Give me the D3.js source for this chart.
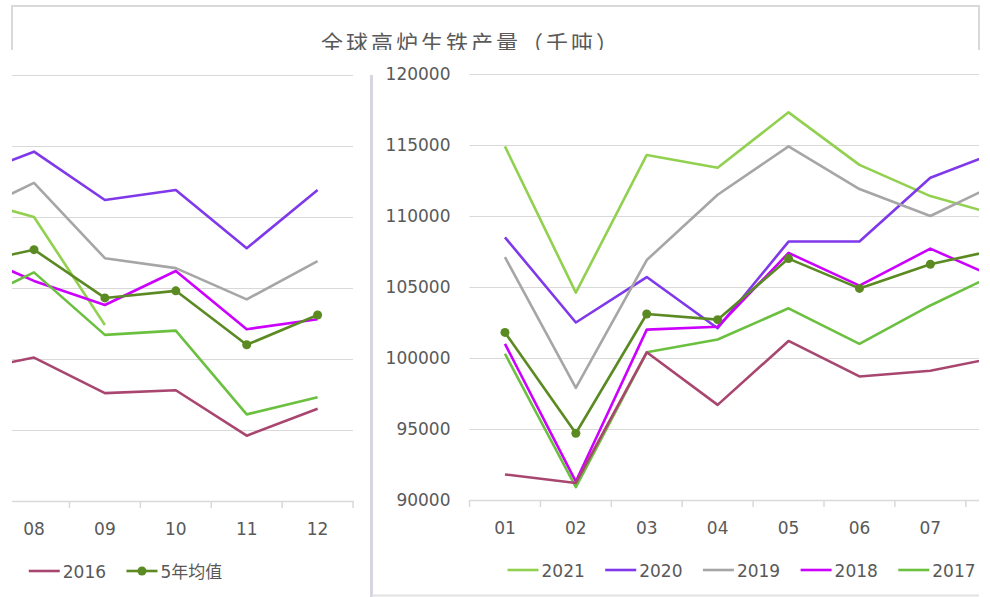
<!DOCTYPE html>
<html>
<head>
<meta charset="utf-8">
<script src="https://cdn.jsdelivr.net/npm/d3@7"></script>
<style>
  body { margin: 0; background: #fff; }
  svg text { font-family: "DejaVu Sans", "Noto Sans CJK SC", sans-serif; fill: #595959; }
</style>
</head>
<body>
<svg id="chart" width="990" height="597"></svg>
<script>
// data
const months = ["01","02","03","04","05","06","07","08","09","10","11","12"];
const yTicks = [90000, 95000, 100000, 105000, 110000, 115000, 120000];
const s2021 = [114900, 104600, 114300, 113400, 117300, 113600, 111400, 110000, 102400, null, null, null];
const s2020 = [108500, 102500, 105700, 102100, 108200, 108200, 112700, 114600, 111200, 111900, 107800, 111900];
const s2019 = [107100, 97900, 106900, 111500, 114900, 111900, 110000, 112400, 107100, 106400, 104200, 106900];
const s2018 = [101000, 91300, 102000, 102200, 107400, 105100, 107700, 105500, 103800, 106200, 102100, 102800];
const s2017 = [100300, 90900, 100400, 101300, 103500, 101000, 103700, 106100, 101700, 102000, 96100, 97300];
const s2016 = [91800, 91200, 100400, 96700, 101200, 98700, 99100, 100100, 97600, 97800, 94600, 96500];
const avg5 = [101800, 94700, 103100, 102700, 107000, 104900, 106600, 107700, 104300, 104800, 101000, 103100];

const series = [
  {name: "2021", values: s2021, color: "#92D050"},
  {name: "2020", values: s2020, color: "#7F38EA"},
  {name: "2019", values: s2019, color: "#A6A6A6"},
  {name: "2018", values: s2018, color: "#CC00FF"},
  {name: "2017", values: s2017, color: "#6CC040"},
  {name: "2016", values: s2016, color: "#A9466F"},
  {name: "5年均值", values: avg5, color: "#5B8A23", marker: true}
];

const svg = d3.select("#chart");
const defs = svg.append("defs");

// title box (cut off at the bottom)
defs.append("clipPath").attr("id", "clipTitle")
  .append("rect").attr("x", 0).attr("y", 0).attr("width", 990).attr("height", 50);
const tg = svg.append("g").attr("clip-path", "url(#clipTitle)");
tg.append("rect").attr("x", 12).attr("y", 6).attr("width", 967).attr("height", 80)
  .attr("fill", "none").attr("stroke", "#d9d9d9").attr("stroke-width", 2);
tg.append("text").attr("x", 471).attr("y", 51).attr("text-anchor", "middle")
  .style("font-family", "'Noto Sans CJK SC', sans-serif")
  .style("font-size", "22px").style("letter-spacing", "3px")
  .text("全球高炉生铁产量（千吨）");

// scales for the full chart
const x = d3.scaleBand().domain(months).range([469.5, 469.5 + 12 * 70.9]);
const y = d3.scaleLinear().domain([90000, 120000]).range([500, 74]);
const plotRight = x.range()[1];
const mid = m => x(m) + x.bandwidth() / 2;

// draws the whole chart; only texts inside [xmin, xmax] are written
function drawChart(g, xmin, xmax, withYLabels) {
  // grid
  g.append("g").selectAll("line").data(yTicks.filter(d => d > 90000)).join("line")
    .attr("x1", x.range()[0]).attr("x2", plotRight)
    .attr("y1", d => Math.round(y(d)) + 0.5).attr("y2", d => Math.round(y(d)) + 0.5)
    .attr("stroke", "#d9d9d9").attr("stroke-width", 1.2);

  // y axis labels
  if (withYLabels) {
    const ya = g.append("g").attr("transform", "translate(" + (x.range()[0] - 19) + ",0)")
      .call(d3.axisLeft(y).tickValues(yTicks).tickSize(0).tickPadding(0).tickFormat(d3.format("d")));
    ya.select(".domain").remove();
    ya.selectAll("text").style("font-size", "17px").attr("dy", "0.35em");
  }

  // x axis
  const shown = months.filter(m => mid(m) - 12 > xmin && mid(m) + 12 < xmax);
  const xa = g.append("g").attr("transform", "translate(0,500)")
    .call(d3.axisBottom(x).tickValues(shown).tickSize(0).tickPadding(22));
  xa.select(".domain").attr("stroke", "#d9d9d9").attr("stroke-width", 1.5);
  xa.selectAll("text").style("font-size", "17px");
  g.append("g").selectAll("line").data(d3.range(13)).join("line")
    .attr("x1", i => x.range()[0] + i * x.step()).attr("x2", i => x.range()[0] + i * x.step())
    .attr("y1", 500).attr("y2", 507).attr("stroke", "#d9d9d9").attr("stroke-width", 1.5);

  // lines
  const line = d3.line()
    .defined(d => d != null)
    .x((d, i) => mid(months[i]))
    .y(d => y(d));
  series.forEach(s => {
    g.append("path").datum(s.values)
      .attr("d", line).attr("fill", "none")
      .attr("stroke", s.color).attr("stroke-width", 2.6)
      .attr("stroke-linejoin", "round");
    if (s.marker) {
      g.append("g").selectAll("circle").data(s.values).join("circle")
        .attr("cx", (d, i) => mid(months[i]))
        .attr("cy", d => y(d)).attr("r", 4.5).attr("fill", s.color);
    }
  });

  // legend (single row)
  const legX = i => 507.5 + i * 97.7;
  const items = series.map((s, i) => ({s: s, x: legX(i)}))
    .filter(d => d.x + 30 > xmin && d.x < xmax);
  const lg = g.append("g").selectAll("g").data(items).join("g")
    .attr("transform", d => "translate(" + d.x + ",570)");
  lg.append("line").attr("x1", 0).attr("x2", 31).attr("y1", 0).attr("y2", 0)
    .attr("stroke", d => d.s.color).attr("stroke-width", 2.6);
  lg.filter(d => d.s.marker).append("circle").attr("cx", 15.5).attr("cy", 0).attr("r", 4.5)
    .attr("fill", d => d.s.color);
  lg.append("text").attr("x", 34).attr("y", 7).style("font-size", "17px").text(d => d.s.name);
}

// right panel: start of the chart
const rMin = 373, rMax = 979;
defs.append("clipPath").attr("id", "clipRight")
  .append("rect").attr("x", rMin).attr("y", 52).attr("width", rMax - rMin).attr("height", 545);
const right = svg.append("g").attr("clip-path", "url(#clipRight)").append("g");
drawChart(right, rMin, rMax, true);

// left panel: continuation of the same chart
const shift = mid("08") - 34;
const lMin = 12 + shift, lMax = 364 + shift;
defs.append("clipPath").attr("id", "clipLeft")
  .append("rect").attr("x", lMin).attr("y", 51).attr("width", lMax - lMin).attr("height", 545);
const left = svg.append("g").attr("transform", "translate(" + (-shift) + ",1)")
  .append("g").attr("clip-path", "url(#clipLeft)");
drawChart(left, lMin, lMax, false);

// panel borders
svg.append("line").attr("x1", 371.5).attr("x2", 371.5).attr("y1", 75).attr("y2", 597)
  .attr("stroke", "#d6d6e2").attr("stroke-width", 3);
svg.append("line").attr("x1", 372).attr("x2", 979).attr("y1", 595.5).attr("y2", 595.5)
  .attr("stroke", "#e2e2e2").attr("stroke-width", 2);
</script>
</body>
</html>
